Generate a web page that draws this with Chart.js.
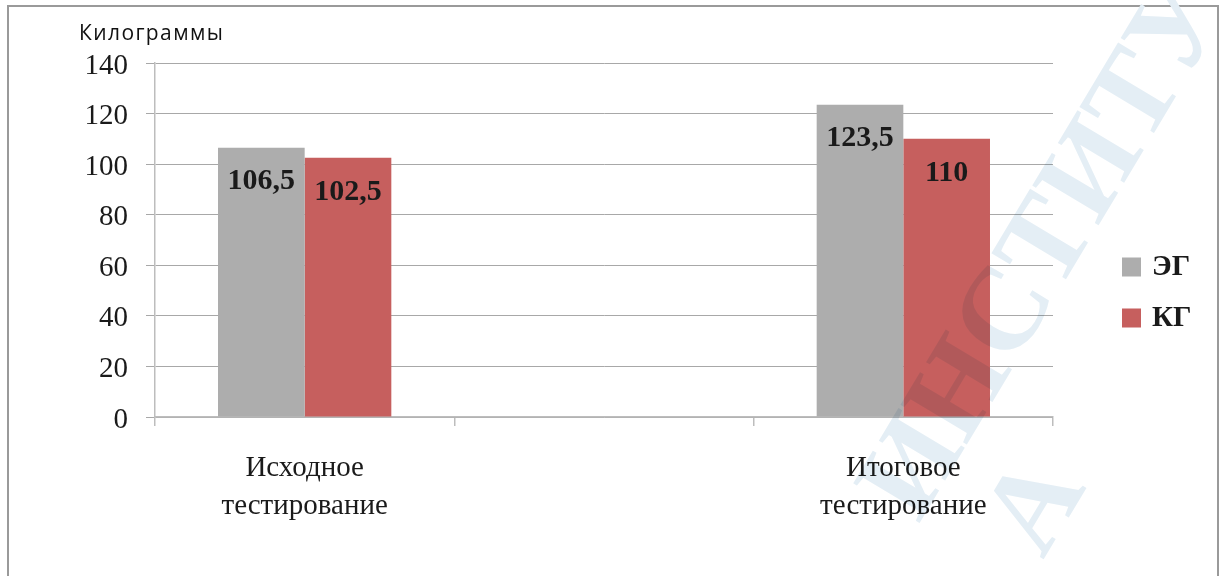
<!DOCTYPE html>
<html>
<head>
<meta charset="utf-8">
<script src="https://cdn.jsdelivr.net/npm/chart.js@4.4.1/dist/chart.umd.min.js"></script>
<style>
  html, body { margin: 0; padding: 0; background: #fff; overflow: hidden; }
  #frame { position: absolute; left: 7px; top: 5px; width: 1208px; height: 620px; border: 2px solid #9a9a9a; }
  #wrap { position: absolute; left: 0; top: 0; width: 1219px; height: 576px; }
</style>
</head>
<body>
<div id="frame"></div>
<div id="wrap"><canvas id="chart" width="1219" height="576"></canvas></div>
<script>
const categories = [['Исходное', 'тестирование'], '', ['Итоговое', 'тестирование']];
const seriesNames = ['ЭГ', 'КГ'];
const egValues = [106.5, null, 123.5];
const kgValues = [102.5, null, 110];
const yTicks = [0, 20, 40, 60, 80, 100, 120, 140];
const axisTitle = 'Килограммы';

const serif = "'Liberation Serif', 'Times New Roman', serif";

// value labels inside the bars, near the top
const valueLabels = {
  id: 'valueLabels',
  afterDatasetsDraw(chart) {
    const ctx = chart.ctx;
    ctx.save();
    ctx.font = 'bold 30px ' + serif;
    ctx.fillStyle = '#1a1a1a';
    ctx.textAlign = 'center';
    ctx.textBaseline = 'middle';
    chart.data.datasets.forEach((ds, i) => {
      chart.getDatasetMeta(i).data.forEach((bar, j) => {
        const v = ds.data[j];
        if (v == null) return;
        ctx.fillText(String(v).replace('.', ','), bar.x, bar.y + 34);
      });
    });
    ctx.restore();
  }
};

// legend on the right + unit title + faint page watermark
const sideLegend = {
  id: 'sideLegend',
  afterDraw(chart) {
    const ctx = chart.ctx;
    const area = chart.chartArea;
    ctx.save();
    chart.data.datasets.forEach((ds, i) => {
      const cy = 267 + i * 51;
      ctx.fillStyle = ds.backgroundColor;
      ctx.fillRect(area.right + 69, cy - 9.5, 19, 19);
      ctx.fillStyle = '#1a1a1a';
      ctx.font = 'bold 29px ' + serif;
      ctx.textBaseline = 'middle';
      ctx.textAlign = 'left';
      ctx.fillText(ds.label, area.right + 99, cy + 1);
    });
    ctx.font = "21px 'Open Sans', sans-serif";
    ctx.letterSpacing = '1.4px';
    ctx.fillStyle = '#111';
    ctx.textBaseline = 'alphabetic';
    ctx.fillText(axisTitle, 79, 40);
    ctx.restore();

    ctx.save();
    ctx.globalCompositeOperation = 'multiply';
    ctx.translate(1048, 250);
    ctx.rotate(-59 * Math.PI / 180);
    ctx.font = 'bold 118px ' + serif;
    ctx.fillStyle = 'rgb(228, 238, 245)';
    ctx.textAlign = 'center';
    ctx.textBaseline = 'middle';
    ctx.fillText('ИНСТИТУ', 0, 0);
    ctx.fillText('А', -226, 125);
    ctx.restore();
  }
};

new Chart(document.getElementById('chart'), {
  type: 'bar',
  data: {
    labels: categories,
    datasets: [
      { label: seriesNames[0], data: egValues, backgroundColor: '#adadad' },
      { label: seriesNames[1], data: kgValues, backgroundColor: '#c65f5e' },
    ],
  },
  options: {
    responsive: false,
    animation: false,
    layout: { padding: { top: 63, right: 166, left: 0, bottom: 0 } },
    datasets: { bar: { categoryPercentage: 0.579, barPercentage: 1 } },
    plugins: { legend: { display: false }, tooltip: { enabled: false } },
    scales: {
      x: {
        afterFit(scale) { scale.height = 159; },
        grid: { drawOnChartArea: false, drawTicks: true, tickLength: 9, color: '#bdbdbd', lineWidth: 1.5 },
        border: { color: '#bdbdbd', width: 1.5 },
        ticks: { color: '#1a1a1a', padding: 23, font: { family: serif, size: 29, lineHeight: 1.33 } },
      },
      y: {
        min: 0,
        max: 140,
        afterFit(scale) { scale.width = 155; },
        afterBuildTicks(scale) { scale.ticks = yTicks.map(v => ({ value: v })); },
        grid: { color: '#a8a8a8', lineWidth: 1, tickLength: 9 },
        border: { color: '#bdbdbd', width: 1.5 },
        ticks: { color: '#1a1a1a', padding: 18, labelOffset: 3, font: { family: serif, size: 29 } },
      },
    },
  },
  plugins: [valueLabels, sideLegend],
});
</script>
</body>
</html>
